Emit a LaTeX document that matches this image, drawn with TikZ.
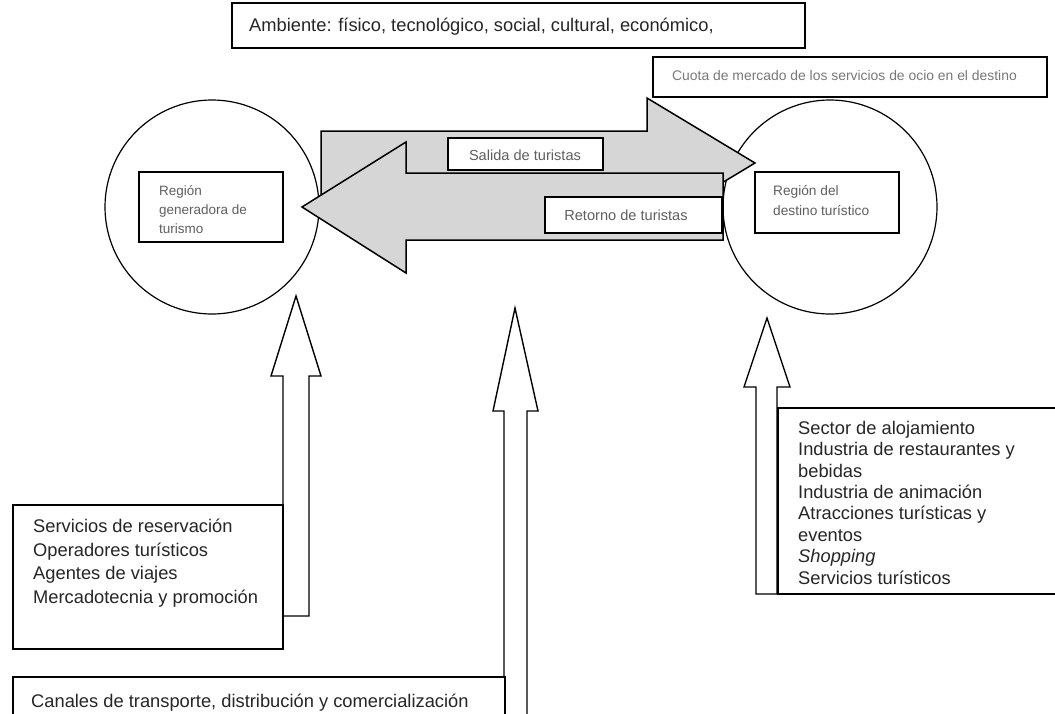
\documentclass[tikz,border=0pt]{standalone}
\usepackage{fontspec}
\setmainfont{Liberation Sans}
\definecolor{arrgray}{RGB}{214,214,214}
\definecolor{smalltxt}{RGB}{95,95,95}
\definecolor{lighttxt}{RGB}{120,120,120}
\tikzset{
  boxline/.style={draw=black, line width=1.9pt, fill=white},
  ringline/.style={draw=black, line width=1.2pt},
  bigarrow/.style={draw=black, line width=1.5pt, fill=arrgray, line join=miter},
  uparrow/.style={draw=black, line width=1.4pt, fill=white, line join=miter},
  bigtxt/.style={inner sep=0pt, anchor=base west, align=left, text=black!85},
  smalltext/.style={inner sep=0pt, text=smalltxt},
}
\begin{document}
\begin{tikzpicture}[x=1pt,y=-1pt]
\useasboundingbox (0,0) rectangle (1055,713);
\clip (0,0) rectangle (1055,713);

% top boxes
\draw[boxline] (232,3) rectangle (805,48);
\node[bigtxt, font=\fontsize{18.3}{22}\selectfont] (amb) at (249,31) {Ambiente: físico, tecnológico, social, cultural, económico,};
\draw[boxline] (653,57) rectangle (1047,97);
\node[smalltext, text=lighttxt, anchor=base west, font=\fontsize{13.9}{16}\selectfont] (cuota) at (672,80) {Cuota de mercado de los servicios de ocio en el destino};

% circles
\node[ringline, circle, minimum size=214pt, inner sep=0pt] (gen) at (212,207) {};
\node[ringline, circle, minimum size=214pt, inner sep=0pt] (dest) at (830,207) {};

% inner boxes (multi-line text: base anchor is the last line)
\draw[boxline] (139,172) rectangle (283,242);
\node[smalltext, anchor=base west, align=left, font=\fontsize{13.5}{19}\selectfont] (gentxt) at (159,233) {Región\\generadora de\\turismo};
\draw[boxline] (755,172) rectangle (899,233);
\node[smalltext, anchor=base west, align=left, font=\fontsize{13.7}{20}\selectfont] (desttxt) at (773,215) {Región del\\destino turístico};

% big horizontal arrows
\draw[bigarrow] (321,131) -- (647,131) -- (647,98) -- (755,163) -- (647,228) -- (647,195) -- (321,195) -- cycle;
\draw[bigarrow] (723,173) -- (406,173) -- (406,142) -- (302,207) -- (406,273) -- (406,240) -- (723,240) -- cycle;

\draw[boxline] (448,138) rectangle (603,170);
\node[smalltext, font=\fontsize{14.6}{17}\selectfont] (salida) at (525,155) {Salida de turistas};
\draw[boxline] (545,197) rectangle (722,233);
\node[smalltext, font=\fontsize{14.6}{17}\selectfont] (retorno) at (626,215) {Retorno de turistas};

% up arrows
\draw[uparrow] (296,296) -- (321,376) -- (309,376) -- (309,616) -- (283,616) -- (283,376) -- (271,376) -- cycle;
\draw[uparrow] (515,308) -- (538,411) -- (527,411) -- (527,725) -- (504,725) -- (504,411) -- (493,411) -- cycle;
\draw[uparrow] (767,318) -- (790,387) -- (777,387) -- (777,594) -- (756,594) -- (756,387) -- (744,387) -- cycle;

% bottom-left box
\draw[boxline] (13,505) rectangle (283,649);
\node[bigtxt, font=\fontsize{18.3}{23.5}\selectfont] (ltxt) at (33,603) {Servicios de reservación\\Operadores turísticos\\Agentes de viajes\\Mercadotecnia y promoción};

% canales box
\draw[boxline] (13,677) rectangle (505,730);
\node[bigtxt, font=\fontsize{18.3}{22}\selectfont] (canales) at (31,707) {Canales de transporte, distribución y comercialización};

% right box
\draw[boxline] (778,408) rectangle (1065,594);
\node[bigtxt, font=\fontsize{18.3}{21.4}\selectfont] (rtxt) at (798,584) {Sector de alojamiento\\Industria de restaurantes y\\bebidas\\Industria de animación\\Atracciones turísticas y\\eventos\\\textit{Shopping}\\Servicios turísticos};
\end{tikzpicture}
\end{document}
